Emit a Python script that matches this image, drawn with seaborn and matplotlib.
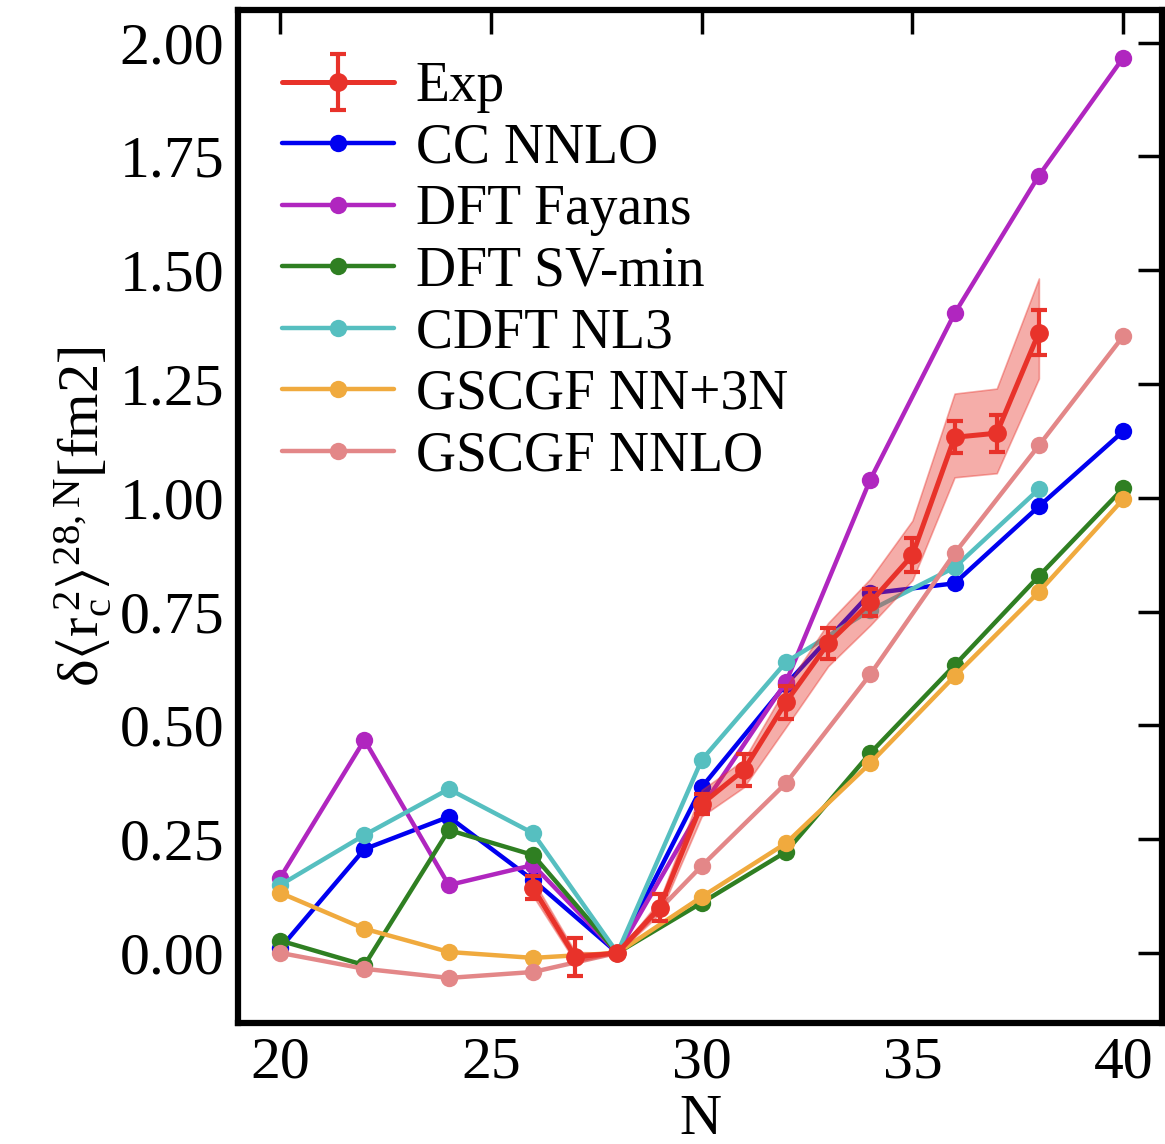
import numpy as np
import pandas as pd
import matplotlib
matplotlib.use("Agg")
import matplotlib.pyplot as plt
import seaborn as sns

# ---------------- data ----------------
N_theory = [20, 22, 24, 26, 28, 30, 32, 34, 36, 38, 40]
cc_nnlo = [0.010, 0.228, 0.299, 0.160, 0.0, 0.364, 0.590, 0.790, 0.812, 0.981, 1.146]
dft_fayans = [0.165, 0.468, 0.149, 0.193, 0.0, 0.320, 0.595, 1.040, 1.405, 1.708, 1.967]
dft_svmin = [0.027, -0.027, 0.270, 0.215, 0.0, 0.110, 0.222, 0.439, 0.632, 0.828, 1.021]
cdft_nl3 = [0.149, 0.259, 0.360, 0.263, 0.0, 0.424, 0.639, 0.753, 0.847, 1.019, np.nan]
gscgf_nn3n = [0.132, 0.053, 0.002, -0.011, 0.0, 0.123, 0.241, 0.417, 0.608, 0.793, 0.997]
gscgf_nnlo = [0.000, -0.035, -0.055, -0.042, 0.0, 0.191, 0.373, 0.612, 0.878, 1.115, 1.355]

N_exp = [26, 27, 28, 29, 30, 31, 32, 33, 34, 35, 36, 37, 38]
exp_val = [0.143, -0.009, 0.0, 0.099, 0.327, 0.402, 0.551, 0.680, 0.770, 0.874, 1.133, 1.142, 1.363]
exp_err = [0.025, 0.042, 0.0, 0.030, 0.022, 0.035, 0.036, 0.034, 0.030, 0.038, 0.035, 0.041, 0.050]
band_lo = [0.125, -0.020, 0.0, 0.085, 0.300, 0.364, 0.496, 0.630, 0.720, 0.819, 1.045, 1.054, 1.262]
band_hi = [0.160, 0.002, 0.0, 0.115, 0.358, 0.424, 0.584, 0.725, 0.822, 0.950, 1.229, 1.240, 1.482]

series_names = ["CC NNLO", "DFT Fayans", "DFT SV-min", "CDFT NL3", "GSCGF NN+3N", "GSCGF NNLO"]
series_vals = [cc_nnlo, dft_fayans, dft_svmin, cdft_nl3, gscgf_nn3n, gscgf_nnlo]
series_colors = ["#0000f0", "#b026bf", "#2f7f22", "#56bfc0", "#f0aa3e", "#e38788"]
exp_color = "#e8322a"

x_ticks = [20, 25, 30, 35, 40]
y_ticks = [0.00, 0.25, 0.50, 0.75, 1.00, 1.25, 1.50, 1.75, 2.00]

# ---------------- style ----------------
sns.set_theme(style="white")
plt.rcParams["font.family"] = ["Liberation Serif", "DejaVu Serif"]
plt.rcParams["text.color"] = "black"
plt.rcParams["axes.labelcolor"] = "black"
plt.rcParams["xtick.color"] = "black"
plt.rcParams["ytick.color"] = "black"
plt.rcParams["mathtext.fontset"] = "custom"
plt.rcParams["mathtext.rm"] = "Liberation Serif"
plt.rcParams["mathtext.it"] = "Liberation Serif"
plt.rcParams["mathtext.bf"] = "Liberation Serif:bold"
plt.rcParams["mathtext.fallback"] = "stix"

fig = plt.figure(figsize=(11.65, 11.44), dpi=100)
ax = fig.add_axes([0.2043, 0.1058, 0.7931, 0.8855])

lw = 3.2
ms = 12.5
for name, vals, col in zip(series_names, series_vals, series_colors):
    df = pd.DataFrame({"N": N_theory, "v": vals}).dropna()
    sns.lineplot(data=df, x="N", y="v", ax=ax, color=col, marker="o",
                 markersize=ms, markeredgewidth=0, linewidth=lw, label=name,
                 zorder=2)

ax.fill_between(N_exp, band_lo, band_hi, color=exp_color, alpha=0.4,
                linewidth=1.2, edgecolor=exp_color, zorder=3)
eb = ax.errorbar(N_exp, exp_val, yerr=exp_err, color=exp_color, marker="o",
                 markersize=ms, mec=exp_color, mfc=exp_color, linewidth=3.6,
                 elinewidth=3.0, capsize=6, capthick=3.0, label="Exp", zorder=4)

ax.set_xlim(19.0, 40.92)
ax.set_ylim(-0.154, 2.072)
ax.set_xticks(x_ticks)
ax.set_yticks(y_ticks)
ax.set_yticklabels([f"{v:.2f}" for v in y_ticks])

ax.tick_params(axis="both", which="major", direction="in", length=17, width=2.5,
               labelsize=43, top=True, right=True, colors="black",
               labelcolor="black", pad=10)
for s in ax.spines.values():
    s.set_linewidth(4.5)
    s.set_color("black")

ax.set_xlabel("N", fontsize=42, labelpad=2, color="black")
ax.set_ylabel(r"$\delta\langle \mathrm{r}_\mathrm{c}^{\,2}\rangle^{28,\mathrm{N}}$[fm2]",
              fontsize=42, labelpad=4, color="black")

handles, labels = ax.get_legend_handles_labels()
order = [labels.index("Exp")] + [labels.index(n) for n in series_names]
leg = ax.legend([handles[i] for i in order], [labels[i] for i in order],
                loc="upper left", bbox_to_anchor=(0.0, 0.993), frameon=False,
                fontsize=40, handlelength=2.0, labelspacing=0.17,
                handletextpad=0.4, borderaxespad=0.4, labelcolor="black")

fig.savefig("out.png", dpi=100)
